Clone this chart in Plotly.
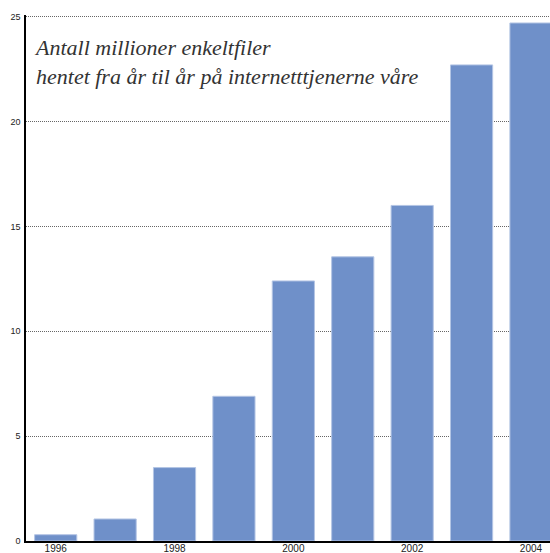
import plotly.graph_objects as go

years = ["1996", "1997", "1998", "1999", "2000", "2001", "2002", "2003", "2004"]
values = [0.3, 1.05, 3.5, 6.9, 12.4, 13.55, 16.0, 22.7, 24.7]
x_tick_labels = ["1996", "1998", "2000", "2002", "2004"]
y_ticks = [0, 5, 10, 15, 20, 25]
title_lines = ["Antall millioner enkeltfiler", "hentet fra år til år på internetttjenerne våre"]

fig = go.Figure()
fig.add_trace(go.Bar(
    x=years, y=values,
    marker=dict(color="#6f90c9", line=dict(color="#b4c5e4", width=1)),
    hoverinfo="x+y",
))

fig.update_layout(
    width=550, height=553,
    margin=dict(l=26, r=0, t=15, b=12, autoexpand=False),
    paper_bgcolor="white", plot_bgcolor="white",
    bargap=0.29,
    showlegend=False,
    font=dict(family="Liberation Sans, Arial, sans-serif", color="#222"),
    xaxis=dict(
        type="category",
        range=[-0.5, 8.32],
        tickmode="array", tickvals=x_tick_labels, ticktext=x_tick_labels,
        showgrid=False, ticks="", showline=True, linecolor="black", linewidth=1.5,
        tickfont=dict(size=10, color="#222"),
        automargin=False,
        ticklabelstandoff=-3,
    ),
    yaxis=dict(
        range=[0, 25.08],
        tickvals=y_ticks,
        showgrid=True, gridcolor="#666", griddash="1px,1px", gridwidth=1,
        showline=True, linecolor="black", linewidth=1.5,
        ticks="", zeroline=False,
        tickfont=dict(size=9, color="#222"),
        automargin=False,
        ticklabelstandoff=2,
    ),
    annotations=[
        dict(text="<br>".join(title_lines), x=0.012, y=0.966, xref="paper", yref="paper",
             xanchor="left", yanchor="top", showarrow=False, align="left",
             font=dict(family="Liberation Serif, serif", size=22, color="#333", style="italic"))
    ],
)

fig.write_html("out.html", config={"displayModeBar": False},
               post_script="document.body.style.margin='0';")
